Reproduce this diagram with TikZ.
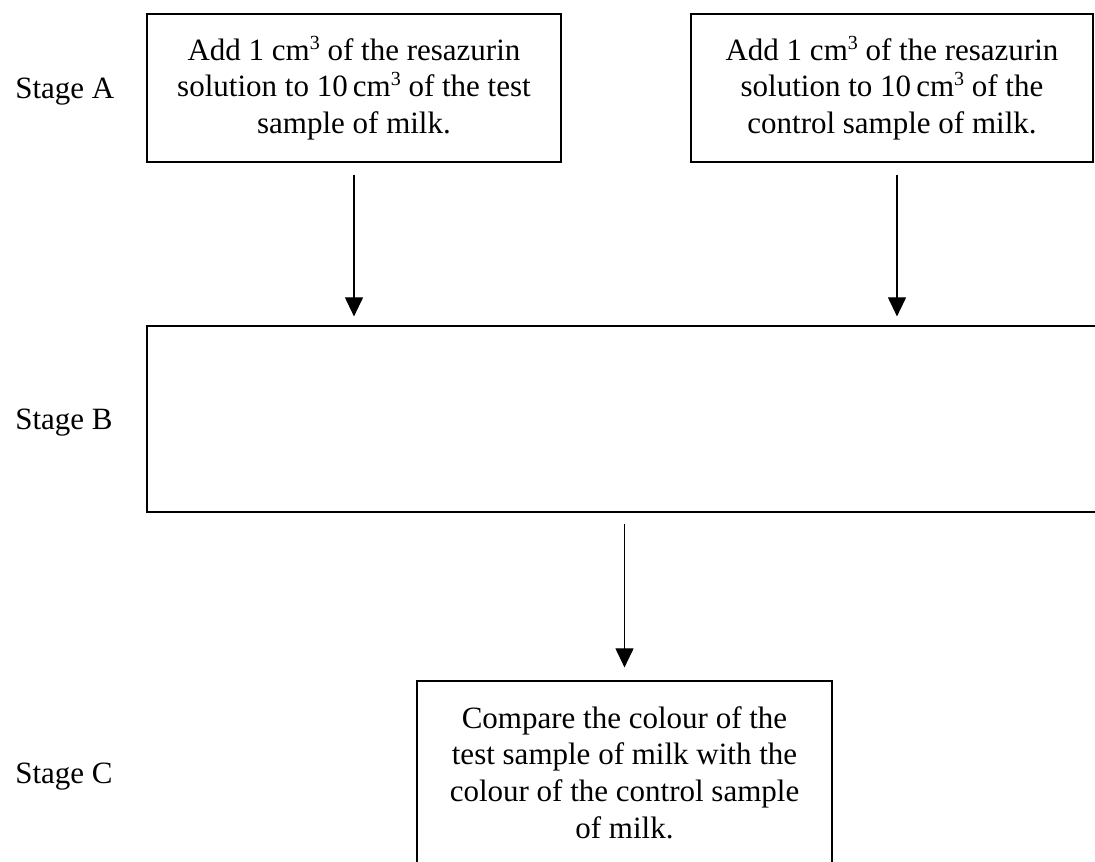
\documentclass[tikz,border=0pt]{standalone}
\usepackage{fontspec}
\setmainfont{Liberation Serif}
\usetikzlibrary{arrows.meta}
\newcommand{\cubedsup}{\raisebox{8.5pt}{\fontsize{15}{15}\selectfont 3}}
\begin{document}
\begin{tikzpicture}[x=0.75pt,y=-0.75pt,
  box/.style={draw, line width=0.9pt, rectangle, inner sep=0pt, align=center,
    font=\fontsize{23.25}{27.4}\selectfont},
  lbl/.style={inner sep=0pt, anchor=base west, font=\fontsize{23.25}{27.4}\selectfont},
  arr/.style={line width=0.8pt, -{Triangle[length=14.25pt,width=13.5pt]}}]
\useasboundingbox (0,0) rectangle (1095,862);
\clip (0,0) rectangle (1095,862);
\node[box, minimum width=414*0.75pt, minimum height=148*0.75pt] (a1) at (354,88)
  {Add 1 cm\cubedsup{} of the resazurin\\solution to 10\,cm\cubedsup{} of the test\\sample of milk.};
\node[box, minimum width=402*0.75pt, minimum height=148*0.75pt] (a2) at (892,88)
  {Add 1 cm\cubedsup{} of the resazurin\\solution to 10\,cm\cubedsup{} of the\\control sample of milk.};
\node[box, minimum width=963*0.75pt, minimum height=186*0.75pt] (b) at (628.5,419) {};
\node[box, minimum width=415*0.75pt, minimum height=183*0.75pt] (c) at (624.5,772.5)
  {Compare the colour of the\\test sample of milk with the\\colour of the control sample\\of milk.};
\node[lbl] (sa) at (15,99) {Stage A};
\node[lbl] (sb) at (15,430) {Stage B};
\node[lbl] (sc) at (15,783) {Stage C};
\draw[arr, shorten <=12*0.75pt, shorten >=9*0.75pt] (a1.south) -- (a1.south |- b.north);
\draw[arr, shorten <=12*0.75pt, shorten >=9*0.75pt]
  ([xshift=5*0.75pt]a2.south) -- ([xshift=5*0.75pt]a2.south |- b.north);
\draw[arr, shorten <=11*0.75pt, shorten >=13*0.75pt] (b.south -| c.north) -- (c.north);
\end{tikzpicture}
\end{document}
